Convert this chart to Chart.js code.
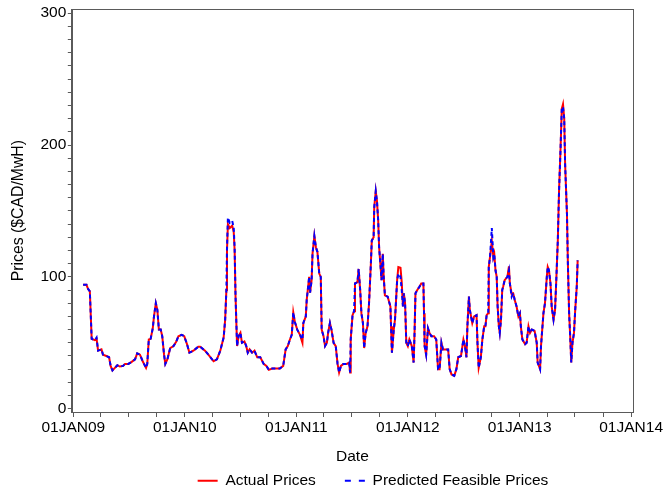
<!DOCTYPE html>
<html lang="en">
<head>
<meta charset="UTF-8">
<title>Actual vs Predicted Prices</title>
<script src="https://cdn.jsdelivr.net/npm/chart.js"></script>
<style>
  html, body { margin: 0; padding: 0; background: #fff; }
  #wrap { width: 664px; height: 494px; }
</style>
</head>
<body>
<div id="wrap"><canvas id="grafico"></canvas></div>
<script>
// data
var dates = [
  '2009-02-02','2009-02-13','2009-02-18','2009-02-24','2009-03-02','2009-03-12','2009-03-18','2009-03-23',
  '2009-04-03','2009-04-08','2009-04-19','2009-04-28','2009-05-03','2009-05-09','2009-05-17','2009-05-25',
  '2009-06-02','2009-06-13','2009-06-19','2009-06-30','2009-07-11','2009-07-22','2009-07-29','2009-08-07',
  '2009-08-16','2009-08-27','2009-08-31','2009-09-05','2009-09-11','2009-09-18','2009-09-22','2009-09-28',
  '2009-10-03','2009-10-08','2009-10-14','2009-10-19','2009-10-25','2009-10-29','2009-11-05','2009-11-14',
  '2009-11-25','2009-12-04','2009-12-11','2009-12-22','2009-12-30','2010-01-08','2010-01-16','2010-01-29',
  '2010-02-14','2010-02-20','2010-03-08','2010-03-19','2010-04-05','2010-04-16','2010-04-27','2010-05-08',
  '2010-05-13','2010-05-17','2010-05-19','2010-05-22','2010-05-28','2010-06-05','2010-06-10','2010-06-13',
  '2010-06-16','2010-06-21','2010-06-26','2010-07-02','2010-07-07','2010-07-15','2010-07-21','2010-07-26',
  '2010-08-01','2010-08-09','2010-08-17','2010-08-26','2010-09-05','2010-09-16','2010-09-25','2010-10-03',
  '2010-10-14','2010-10-28','2010-11-08','2010-11-19','2010-11-27','2010-12-04','2010-12-11','2010-12-17',
  '2010-12-22','2010-12-27','2011-01-04','2011-01-13','2011-01-21','2011-01-24','2011-02-01','2011-02-04',
  '2011-02-12','2011-02-15','2011-02-20','2011-02-23','2011-03-01','2011-03-06','2011-03-11','2011-03-17',
  '2011-03-22','2011-03-25','2011-03-31','2011-04-05','2011-04-11','2011-04-15','2011-04-21','2011-04-26',
  '2011-05-03','2011-05-10','2011-05-16','2011-05-21','2011-05-27','2011-06-04','2011-06-15','2011-06-23',
  '2011-06-26','2011-06-28','2011-07-04','2011-07-09','2011-07-12','2011-07-20','2011-07-24','2011-07-29',
  '2011-08-02','2011-08-07','2011-08-11','2011-08-16','2011-08-22','2011-08-27','2011-09-02','2011-09-05',
  '2011-09-11','2011-09-13','2011-09-18','2011-09-22','2011-09-26','2011-09-29','2011-10-03','2011-10-07',
  '2011-10-11','2011-10-14','2011-10-18','2011-10-27','2011-11-05','2011-11-07','2011-11-10','2011-11-16',
  '2011-11-20','2011-11-27','2011-12-01','2011-12-08','2011-12-12','2011-12-16','2011-12-19','2011-12-23',
  '2011-12-27','2012-01-01','2012-01-06','2012-01-14','2012-01-20','2012-01-23','2012-01-26','2012-02-01',
  '2012-02-08','2012-02-14','2012-02-21','2012-02-23','2012-02-25','2012-03-01','2012-03-07','2012-03-12',
  '2012-03-18','2012-03-27','2012-04-03','2012-04-09','2012-04-14','2012-04-20','2012-04-25','2012-05-03',
  '2012-05-12','2012-05-17','2012-05-23','2012-06-01','2012-06-08','2012-06-14','2012-06-23','2012-07-01',
  '2012-07-06','2012-07-11','2012-07-14','2012-07-19','2012-07-22','2012-07-30','2012-08-05','2012-08-13',
  '2012-08-16','2012-08-20','2012-08-27','2012-09-01','2012-09-07','2012-09-11','2012-09-15','2012-09-20',
  '2012-09-22','2012-09-26','2012-10-02','2012-10-07','2012-10-10','2012-10-14','2012-10-18','2012-10-21',
  '2012-10-25','2012-10-28','2012-11-01','2012-11-05','2012-11-08','2012-11-13','2012-11-22','2012-11-27',
  '2012-11-30','2012-12-06','2012-12-11','2012-12-16','2012-12-22','2012-12-28','2013-01-02','2013-01-05',
  '2013-01-10','2013-01-19','2013-01-24','2013-01-30','2013-02-04','2013-02-10','2013-02-19','2013-02-26',
  '2013-03-01','2013-03-09','2013-03-12','2013-03-20','2013-03-25','2013-03-31','2013-04-03','2013-04-07',
  '2013-04-12','2013-04-16','2013-04-22','2013-04-27','2013-05-01','2013-05-06','2013-05-10','2013-05-15',
  '2013-05-19','2013-05-23','2013-05-27','2013-05-30','2013-06-05','2013-06-08','2013-06-12','2013-06-16',
  '2013-06-19','2013-06-23','2013-06-28','2013-07-02','2013-07-07','2013-07-10'
];

var actual = [
  94,94,91,89,53,52,53,44, 45,41,40,39,32.5,29,31,33,
  32,32.5,34,34,35.5,37.5,42,41, 36,31,34,52.5,53,61,70,80,
  75,60,60,55,41,34,37.5,46, 47.5,51,55,56,55,49,42.5,44,
  47,47,44,41,36,37.5,44,54, 67.5,90,120,140,137,139,134,120,
  85,47.5,55,57.5,50,51,47.5,42.5, 45,42.5,44,39,39,34,32.5,29.5,
  30.5,30.5,30.5,32.5,45,47.5,52.5,56, 73,66,60,56,50,65,70,82.5,
  100,88,97.5,117.5,131,122.5,119,102.5, 100,60,55,47.5,50,57.5,65,60,
  50,47.5,34,27.5,32.5,34,34,35, 27.5,52.5,71,74,95,96,106,90,
  72.5,65,46,57.5,62.5,80,110,127.5, 130,152.5,165,157.5,142.5,122.5,110,97.5,
  117.5,100,86,85,77.5,62.5,42.5,60, 67.5,97.5,107.5,107,96,77.5,87.5,80,
  50,47.5,52.5,47.5,35,57.5,87.5,90, 92.5,95,95,72.5,47.5,41,61,57.5,
  55,55,52.5,30,30,50,45,45, 45,30,26,25,30,39,40,52.5,
  47.5,39,62.5,85,75,65,70,71, 50,31,39,52.5,62.5,62.5,71,72.5,
  107.5,115,127,115,117.5,105,100,77.5, 62.5,57.5,67.5,90,92.5,97.5,100,108,
  95,87,87.5,82.5,77.5,70,72.5,62.5, 52.5,49,50,62.5,57.5,60,59,50,
  35,30,47.5,72.5,80,100,107.5,105, 95,77.5,67.5,75,97.5,127.5,165,197.5,
  227.5,231,220,185,147.5,110,72.5,52.5, 35,50,57.5,75,92.5,112.5
];

var predicted = [
  94,94,91,89,53,52,54,44, 45,41,40,39,32.5,29,31,33,
  32,32.5,34,34,35.5,37.5,42,41, 36,31,34,52.5,53,61,70,80,
  75,60,60,55,41,34,37.5,46, 47.5,51,55,56,55,49,42.5,44,
  47,47,44,41,36,37.5,44,54, 67.5,90,122,145,141,142.5,137.5,122,
  85,47.5,55,57.5,50,51,47.5,42.5, 45,42.5,44,39,39,34,32.5,29.5,
  30.5,30.5,30.5,32.5,45,47.5,52.5,56, 73,66,60,56,52.5,65,70,82.5,
  100,88,97.5,117.5,131,122.5,119,102.5, 100,60,55,47.5,50,57.5,65,60,
  50,47.5,34,27.5,32.5,34,34,35, 27.5,52.5,71,74,95,96,106,90,
  72.5,65,46,57.5,62.5,80,110,127.5, 130,152.5,165,157.5,142.5,122.5,110,97.5,
  117.5,100,86,85,77.5,62.5,42.5,60, 67.5,97.5,102.5,100,90,77.5,87.5,80,
  50,47.5,52.5,47.5,35,57.5,87.5,90, 92.5,95,95,72.5,47.5,41,61,57.5,
  55,55,52.5,30,30,50,45,45, 45,30,26,25,30,39,40,52.5,
  47.5,39,62.5,85,75,65,70,71, 50,31,39,52.5,62.5,62.5,71,72.5,
  107.5,115,137,115,117.5,105,100,77.5, 62.5,57.5,67.5,90,92.5,97.5,100,105,
  95,85,87.5,82.5,77.5,70,72.5,62.5, 52.5,49,50,62.5,57.5,60,59,50,
  35,30,47.5,72.5,80,100,107.5,105, 95,77.5,67.5,75,97.5,127.5,165,197.5,
  227.5,229,220,185,147.5,110,72.5,52.5, 35,50,57.5,75,92.5,112.5
];

// axis ticks: quarters on x (labels only in January), tens on y (labels only at hundreds)
var xTickDates = [
  '2009-01-01','2009-04-01','2009-07-01','2009-10-01','2010-01-01','2010-04-01','2010-07-01','2010-10-01',
  '2011-01-01','2011-04-01','2011-07-01','2011-10-01','2012-01-01','2012-04-01','2012-07-01','2012-10-01',
  '2013-01-01','2013-04-01','2013-07-01','2013-10-01','2014-01-01'
];
var yTickValues = [0,10,20,30,40,50,60,70,80,90,100,110,120,130,140,150,160,170,180,190,200,
                   210,220,230,240,250,260,270,280,290,300];
var monthNames = ['JAN','FEB','MAR','APR','MAY','JUN','JUL','AUG','SEP','OCT','NOV','DEC'];

var DAY = 86400000;
var xMin = Date.parse('2009-01-01') - 5 * DAY;
var xMax = Date.parse('2014-01-01') + 6 * DAY;

function puntos(valores) {
  return dates.map(function (d, i) { return { x: Date.parse(d), y: valores[i] }; });
}

function etiquetaFecha(v) {
  var d = new Date(v);
  if (d.getUTCMonth() !== 0) return '';
  var dd = ('0' + d.getUTCDate()).slice(-2);
  return dd + monthNames[d.getUTCMonth()] + String(d.getUTCFullYear()).slice(-2);
}

var frameColor = '#5a5a5a';

// box around the plot area
var marco = {
  id: 'marco',
  afterDraw: function (chart) {
    var a = chart.chartArea, ctx = chart.ctx;
    ctx.save();
    ctx.strokeStyle = frameColor;
    ctx.lineWidth = 1;
    ctx.strokeRect(Math.round(a.left) + 0.5, Math.round(a.top) + 0.5,
                   Math.round(a.right - a.left), Math.round(a.bottom - a.top));
    ctx.restore();
  }
};

// the legend only reserves a thin strip; grow its box upward and shift it a bit right
var moverLeyenda = {
  id: 'moverLeyenda',
  afterLayout: function (chart) {
    var lg = chart.legend;
    if (!lg) return;
    lg.top -= 22;
    lg.left += 80;
    lg.height = lg.bottom - lg.top;
    lg.width = lg.right - lg.left;
  }
};

Chart.defaults.font.family = '"Liberation Sans", Arial, sans-serif';
Chart.defaults.font.size = 15.5;
Chart.defaults.color = '#000';

var ctx = document.getElementById('grafico').getContext('2d');
new Chart(ctx, {
  type: 'line',
  data: {
    datasets: [
      {
        label: 'Actual Prices',
        data: puntos(actual),
        borderColor: '#ff0000',
        borderWidth: 2,
        pointRadius: 0,
        tension: 0,
        order: 2
      },
      {
        label: 'Predicted Feasible Prices',
        data: puntos(predicted),
        borderColor: '#0000ff',
        borderWidth: 2,
        borderDash: [4, 3],
        pointRadius: 0,
        tension: 0,
        order: 1
      }
    ]
  },
  options: {
    responsive: true,
    maintainAspectRatio: false,
    animation: false,
    layout: { padding: { top: 0, right: 0, left: 2, bottom: 0 } },
    plugins: {
      tooltip: { enabled: false },
      legend: {
        position: 'bottom',
        maxHeight: 28,
        labels: {
          usePointStyle: true,
          pointStyle: 'line',
          pointStyleWidth: 20,
          padding: 29,
          color: '#000',
          sort: function (a, b) { return a.datasetIndex - b.datasetIndex; },
          generateLabels: function (chart) {
            var items = Chart.defaults.plugins.legend.labels.generateLabels(chart);
            items.forEach(function (it) {
              it.lineWidth = 2;
              it.lineDash = it.datasetIndex === 1 ? [6, 8] : [];
            });
            return items;
          }
        }
      }
    },
    scales: {
      x: {
        type: 'linear',
        min: xMin,
        max: xMax,
        afterBuildTicks: function (scale) {
          scale.ticks = xTickDates.map(function (d) { return { value: Date.parse(d) }; });
        },
        ticks: {
          autoSkip: false,
          maxRotation: 0,
          padding: 1,
          callback: function (v) { return etiquetaFecha(v); }
        },
        grid: { drawOnChartArea: false, drawTicks: true, tickLength: 5, color: frameColor },
        border: { color: frameColor },
        title: { display: true, text: 'Date', padding: { top: 9.6, bottom: 0.2 } }
      },
      y: {
        min: -2.5,
        max: 303,
        afterBuildTicks: function (scale) {
          scale.ticks = yTickValues.map(function (v) { return { value: v }; });
        },
        ticks: {
          autoSkip: false,
          padding: 1.5,
          font: { lineHeight: 1 },
          callback: function (v) { return v % 100 === 0 ? String(v) : ''; }
        },
        grid: { drawOnChartArea: false, drawTicks: true, tickLength: 4, color: frameColor },
        border: { color: frameColor },
        title: { display: true, text: 'Prices ($CAD/MwH)', font: { size: 15.8 }, padding: { top: 7.5, bottom: 10.5 } }
      }
    }
  },
  plugins: [marco, moverLeyenda]
});
</script>
</body>
</html>
